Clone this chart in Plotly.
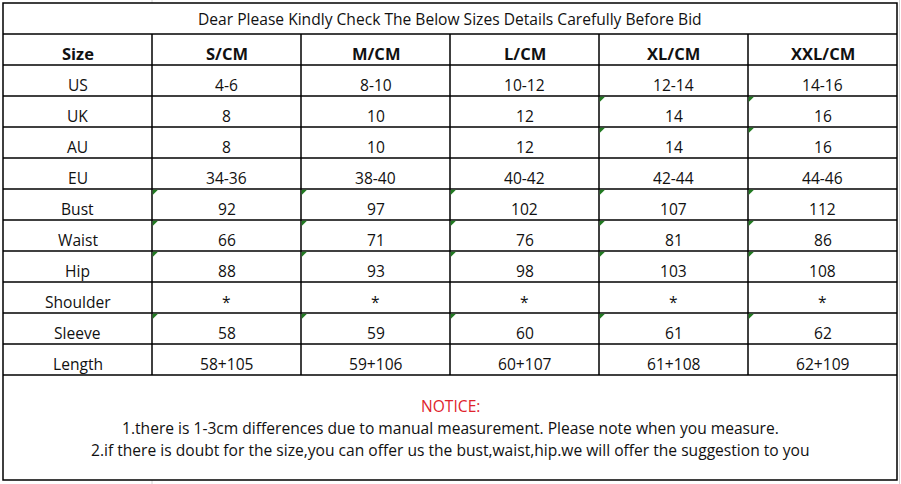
import plotly.graph_objects as go

# ---- data ----
title_text = "Dear Please Kindly Check The Below Sizes Details Carefully Before Bid"
header_first = "Size"
sizes = ["S/CM", "M/CM", "L/CM", "XL/CM", "XXL/CM"]
row_labels = ["US", "UK", "AU", "EU", "Bust", "Waist", "Hip", "Shoulder", "Sleeve", "Length"]
col_S = ["4-6", "8", "8", "34-36", "92", "66", "88", "*", "58", "58+105"]
col_M = ["8-10", "10", "10", "38-40", "97", "71", "93", "*", "59", "59+106"]
col_L = ["10-12", "12", "12", "40-42", "102", "76", "98", "*", "60", "60+107"]
col_XL = ["12-14", "14", "14", "42-44", "107", "81", "103", "*", "61", "61+108"]
col_XXL = ["14-16", "16", "16", "44-46", "112", "86", "108", "*", "62", "62+109"]
notice_title = "NOTICE:"
notice_lines = [
    "1.there is 1-3cm differences due to manual measurement. Please note when you measure.",
    "2.if there is doubt for the size,you can offer us the bust,waist,hip.we will offer the suggestion to you",
]
# cells carrying the small green corner marker (row label -> size columns)
flagged = {
    "UK": ["XL/CM", "XXL/CM"],
    "AU": ["XL/CM", "XXL/CM"],
    "Bust": sizes, "Waist": sizes, "Hip": sizes, "Sleeve": sizes,
}

# ---- layout geometry ----
W, H = 901, 484
col_edges = [3, 152, 301, 450, 599, 748, 897]
title_top, title_bot = 3, 34
row_h = 31
header_bot = title_bot + row_h
n_rows = len(row_labels)
row_edges = [header_bot + i * row_h for i in range(n_rows + 1)]
table_bot = 480
FONT = "Open Sans"
fs = 15.6
fs_bold = 16.5
dy = 4  # text sits slightly low in cells

columns = [col_S, col_M, col_L, col_XL, col_XXL]

fig = go.Figure()
fig.add_trace(go.Scatter(x=[0, W], y=[0, H], mode="markers",
                         marker=dict(opacity=0), hoverinfo="skip", showlegend=False))

shapes = []
line_style = dict(color="#000000", width=1.5)
grey = dict(color="#d4d4d4", width=1)

# faint spreadsheet gridlines outside the table
shapes.append(dict(type="line", x0=col_edges[1], x1=col_edges[1], y0=0, y1=title_top, line=grey))
shapes.append(dict(type="line", x0=col_edges[1], x1=col_edges[1], y0=table_bot, y1=H, line=grey))
shapes.append(dict(type="line", x0=899.5, x1=899.5, y0=0, y1=H, line=grey))

# outer border
shapes.append(dict(type="rect", x0=col_edges[0], x1=col_edges[-1], y0=title_top, y1=table_bot,
                   line=line_style))
# horizontal lines
for y in [title_bot] + row_edges:
    shapes.append(dict(type="line", x0=col_edges[0], x1=col_edges[-1], y0=y, y1=y, line=line_style))
# vertical column lines
for x in col_edges[1:-1]:
    shapes.append(dict(type="line", x0=x, x1=x, y0=title_bot, y1=row_edges[-1], line=line_style))

# green corner markers
for r, lab in enumerate(row_labels):
    if lab in flagged:
        y0 = row_edges[r]
        for c, s in enumerate(sizes):
            if s in flagged[lab]:
                x0 = col_edges[c + 1]
                shapes.append(dict(type="path",
                                   path=f"M {x0+0.7},{y0+0.7} L {x0+6},{y0+0.7} L {x0+0.7},{y0+6} Z",
                                   fillcolor="#217a21", line=dict(width=0)))

ann = []
def txt(x, y, t, bold=False, color="#111111", size=fs):
    ann.append(dict(x=x, y=y, xref="x", yref="y", text=(f"<b>{t}</b>" if bold else t),
                    showarrow=False, xanchor="center", yanchor="middle",
                    font=dict(family=FONT, size=size, color=color)))

centers = [(col_edges[i] + col_edges[i + 1]) / 2 for i in range(len(col_edges) - 1)]
txt((col_edges[0] + col_edges[-1]) / 2, (title_top + title_bot) / 2, title_text)
hy = (title_bot + header_bot) / 2 + dy
txt(centers[0], hy, header_first, bold=True, size=fs_bold)
for c, s in enumerate(sizes):
    txt(centers[c + 1], hy, s, bold=True, size=fs_bold)
for r, lab in enumerate(row_labels):
    y = (row_edges[r] + row_edges[r + 1]) / 2 + dy
    txt(centers[0], y, lab)
    for c, col in enumerate(columns):
        txt(centers[c + 1], y, col[r])

mid = (col_edges[0] + col_edges[-1]) / 2
txt(mid, 406, notice_title, color="#e0242c")
txt(mid, 428, notice_lines[0])
txt(mid, 450, notice_lines[1])

fig.update_layout(
    width=W, height=H, margin=dict(l=0, r=0, t=0, b=0),
    paper_bgcolor="white", plot_bgcolor="white",
    xaxis=dict(range=[0, W], visible=False, fixedrange=True),
    yaxis=dict(range=[H, 0], visible=False, fixedrange=True),
    shapes=shapes, annotations=ann, showlegend=False,
)
fig.write_html("out.html", config={"displayModeBar": False},
               post_script="document.body.style.margin='0';document.body.style.overflow='hidden';")
